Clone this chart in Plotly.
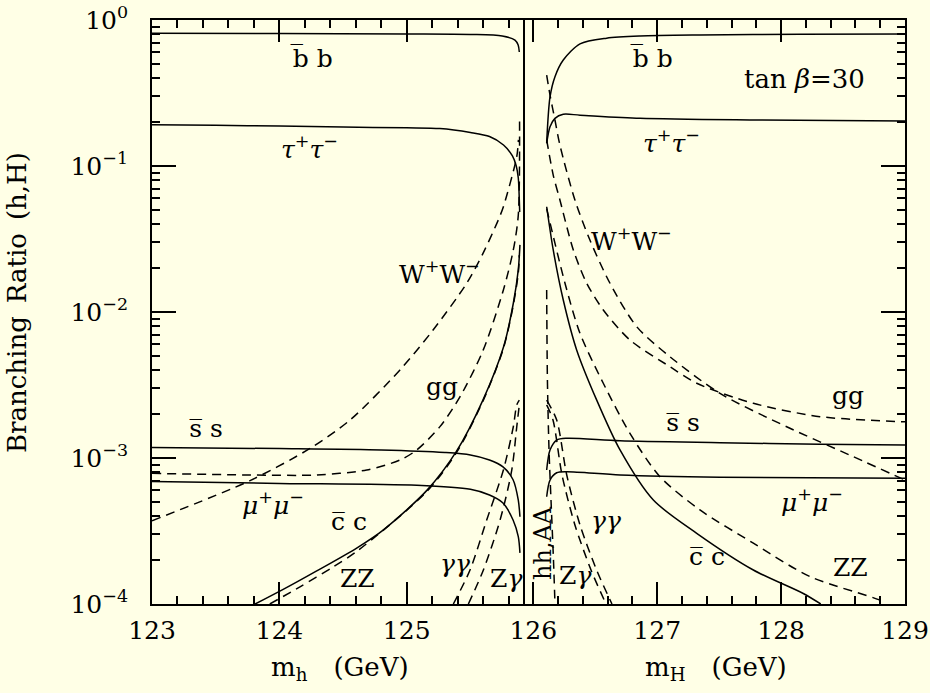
import plotly.graph_objects as go

# ---------------- data: branching ratios of h (left) and H (right) ----------------
# light scalar h, m_h in GeV
mh_bb_x = [123.0, 124.0, 125.0, 125.5, 125.75, 125.85, 125.875, 125.884]
mh_bb = [0.811, 0.808, 0.802, 0.796, 0.777, 0.729, 0.674, 0.604]

mh_tau_x = [123.0, 123.5, 124.0, 124.5, 125.0, 125.26, 125.5, 125.65, 125.76, 125.83, 125.86, 125.876, 125.884, 125.887]
mh_tau = [0.1918, 0.190, 0.1879, 0.1849, 0.1826, 0.1806, 0.1696, 0.1592, 0.1393, 0.1171, 0.100, 0.0827, 0.0585, 0.0484]

mh_ss_x = [123.0, 124.0, 124.8, 125.3, 125.5, 125.65, 125.756, 125.835, 125.876, 125.889]
mh_ss = [1.18e-3, 1.16e-3, 1.135e-3, 1.09e-3, 1.05e-3, 9.7e-4, 8.7e-4, 7.1e-4, 5.15e-4, 3.96e-4]

mh_mumu_x = [123.0, 124.0, 125.08, 125.5, 125.65, 125.756, 125.835, 125.876, 125.889]
mh_mumu = [6.89e-4, 6.7e-4, 6.5e-4, 6.1e-4, 5.58e-4, 4.92e-4, 3.76e-4, 2.89e-4, 2.24e-4]

mh_cc_x = [123.81, 124.03, 124.29, 124.61, 124.82, 125.16, 125.39, 125.60, 125.76, 125.837, 125.876, 125.889]
mh_cc = [1.0e-4, 1.259e-4, 1.679e-4, 2.427e-4, 3.236e-4, 6.026e-4, 1.109e-3, 2.512e-3, 5.754e-3, 1.148e-2, 1.95e-2, 2.884e-2]

mh_zz_x = [123.925, 124.162, 124.424, 124.607, 125.157, 125.393, 125.601, 125.759, 125.837, 125.876, 125.884]
mh_zz = [1.0e-4, 1.312e-4, 1.799e-4, 2.291e-4, 5.888e-4, 1.096e-3, 2.483e-3, 5.623e-3, 1.117e-2, 1.849e-2, 2.455e-2]

mh_ww_x = [123.0, 123.77, 124.241, 124.555, 124.947, 125.207, 125.471, 125.599, 125.719, 125.759, 125.864, 125.877]
mh_ww = [3.72e-4, 7.0e-4, 1.164e-3, 1.82e-3, 4.01e-3, 7.53e-3, 1.574e-2, 2.52e-2, 4.27e-2, 5.26e-2, 0.116, 0.151]

mh_gg_x = [123.0, 123.77, 124.293, 124.686, 124.947, 125.079, 125.261, 125.419, 125.601, 125.759, 125.837, 125.876, 125.886]
mh_gg = [7.85e-4, 7.65e-4, 7.65e-4, 8.28e-4, 9.69e-4, 1.135e-3, 1.64e-3, 2.63e-3, 5.50e-3, 1.415e-2, 2.66e-2, 4.61e-2, 0.2066]

mh_aa_x = [125.366, 125.497, 125.628, 125.759, 125.837, 125.864, 125.884]
mh_aa = [1.0e-4, 1.71e-4, 3.76e-4, 8.28e-4, 1.637e-3, 2.31e-3, 2.49e-3]

mh_za_x = [125.484, 125.602, 125.733, 125.825, 125.864, 125.884]
mh_za = [1.0e-4, 1.71e-4, 3.76e-4, 8.28e-4, 1.637e-3, 2.31e-3]

# heavy scalar H, m_H in GeV
mH_bb_x = [126.108, 126.135, 126.175, 126.242, 126.377, 126.592, 126.861, 127.345, 128.152, 129.0]
mH_bb = [0.144, 0.297, 0.409, 0.532, 0.686, 0.750, 0.776, 0.789, 0.798, 0.802]

mH_tau_x = [126.108, 126.135, 126.175, 126.242, 126.377, 126.861, 127.749, 129.0]
mH_tau = [0.143, 0.186, 0.212, 0.226, 0.223, 0.212, 0.2065, 0.203]

mH_ss_x = [126.108, 126.135, 126.189, 126.27, 126.70, 127.507, 128.314, 129.0]
mH_ss = [8.28e-4, 1.135e-3, 1.327e-3, 1.365e-3, 1.312e-3, 1.274e-3, 1.242e-3, 1.227e-3]

mH_mumu_x = [126.108, 126.135, 126.189, 126.27, 126.70, 127.507, 129.0]
mH_mumu = [5.43e-4, 7.06e-4, 7.92e-4, 8.05e-4, 7.66e-4, 7.38e-4, 7.26e-4]

mH_cc_x = [126.108, 126.161, 126.242, 126.350, 126.512, 126.70, 126.969, 127.319, 127.776, 128.179, 128.32]
mH_cc = [5.26e-2, 2.66e-2, 1.208e-2, 5.50e-3, 2.49e-3, 1.135e-3, 5.15e-4, 3.05e-4, 1.71e-4, 1.18e-4, 1.0e-4]

mH_zz_x = [126.108, 126.256, 126.377, 126.565, 126.78, 127.022, 127.345, 127.776, 128.233, 128.798, 128.84]
mH_zz = [5.1e-2, 1.574e-2, 7.14e-3, 3.25e-3, 1.476e-3, 7.45e-4, 4.41e-4, 2.61e-4, 1.54e-4, 1.06e-4, 1.0e-4]

mH_ww_x = [126.108, 126.135, 126.175, 126.215, 126.336, 126.457, 126.619, 126.835, 127.103, 127.507, 128.045, 128.583, 129.0]
mH_ww = [0.42, 0.306, 0.2065, 0.139, 0.0585, 0.0311, 0.01574, 7.93e-3, 4.94e-3, 2.77e-3, 1.637e-3, 1.021e-3, 7.06e-4]

mH_gg_x = [126.108, 126.161, 126.215, 126.323, 126.431, 126.565, 126.78, 127.103, 127.319, 127.776, 128.314, 129.0]
mH_gg = [0.151, 0.0867, 0.0585, 0.0266, 0.01574, 0.01033, 6.43e-3, 4.22e-3, 3.25e-3, 2.37e-3, 1.92e-3, 1.77e-3]

mH_aa_x = [126.108, 126.189, 126.27, 126.377, 126.511, 126.635]
mH_aa = [2.49e-3, 1.82e-3, 7.65e-4, 3.48e-4, 1.71e-4, 1.0e-4]

mH_za_x = [126.108, 126.159, 126.232, 126.336, 126.466, 126.587]
mH_za = [2.31e-3, 1.82e-3, 7.65e-4, 3.48e-4, 1.71e-4, 1.0e-4]

mH_hhAA_x = [126.108, 126.114, 126.127, 126.143, 126.163, 126.175]
mH_hhAA = [1.415e-2, 3.42e-3, 1.135e-3, 5.15e-4, 2.0e-4, 1.0e-4]

# axis ticks
y_tickvals = [1e-4, 1e-3, 1e-2, 1e-1, 1.0]
y_ticktext = ["10<sup>\u22124</sup>", "10<sup>\u22123</sup>", "10<sup>\u22122</sup>",
              "10<sup>\u22121</sup>", "10<sup>0</sup>"]
y_minor = [m * 10.0 ** e for e in range(-4, 0) for m in range(2, 10)]
xh_major = [123, 124, 125]
xh_minor = [123.2, 123.4, 123.6, 123.8, 124.2, 124.4, 124.6, 124.8, 125.2, 125.4, 125.6, 125.8]
xH_major = [126, 127, 128, 129]
xH_minor = [126.2, 126.4, 126.6, 126.8, 127.2, 127.4, 127.6, 127.8, 128.2, 128.4, 128.6, 128.8]

# ---------------- styling ----------------
BG = "#FFFFE6"
FONT = "DejaVu Serif"
LW = 1.5
DASH = "9px,6px"

fig = go.Figure()

left_series = [
    (mh_bb_x, mh_bb, "solid"), (mh_tau_x, mh_tau, "solid"),
    (mh_ss_x, mh_ss, "solid"), (mh_mumu_x, mh_mumu, "solid"),
    (mh_cc_x, mh_cc, "solid"), (mh_zz_x, mh_zz, DASH),
    (mh_ww_x, mh_ww, DASH), (mh_gg_x, mh_gg, DASH),
    (mh_aa_x, mh_aa, DASH), (mh_za_x, mh_za, DASH),
]
right_series = [
    (mH_bb_x, mH_bb, "solid"), (mH_tau_x, mH_tau, "solid"),
    (mH_ss_x, mH_ss, "solid"), (mH_mumu_x, mH_mumu, "solid"),
    (mH_cc_x, mH_cc, "solid"), (mH_zz_x, mH_zz, DASH),
    (mH_ww_x, mH_ww, DASH), (mH_gg_x, mH_gg, DASH),
    (mH_aa_x, mH_aa, DASH), (mH_za_x, mH_za, DASH),
    (mH_hhAA_x, mH_hhAA, DASH),
]

for xs, ys, dash in left_series:
    fig.add_trace(go.Scatter(x=xs, y=ys, mode="lines", xaxis="x", yaxis="y",
                             line=dict(color="black", width=LW, dash=dash,
                                       shape="spline", smoothing=0.8),
                             showlegend=False, hoverinfo="skip"))
for xs, ys, dash in right_series:
    fig.add_trace(go.Scatter(x=xs, y=ys, mode="lines", xaxis="x2", yaxis="y2",
                             line=dict(color="black", width=LW, dash=dash,
                                       shape="spline", smoothing=0.8),
                             showlegend=False, hoverinfo="skip"))

# plot area geometry in pixels
W, H = 930, 693
L, R, T, B = 152, 25, 20, 89
PW, PH = W - L - R, H - T - B
SPLIT = 523  # pixel column where the two panels meet
split_frac = (SPLIT - L) / PW


def px(x):
    return (x - L) / PW


def py(y):
    return (H - B - y) / PH


axis_common = dict(showgrid=False, zeroline=False, showline=True, linecolor="black",
                   linewidth=1.8, ticks="inside", tickcolor="black", tickwidth=1.5,
                   automargin=False,
                   tickfont=dict(family=FONT, size=25, color="black"))

minor_x = dict(tickmode="array", ticks="inside", ticklen=8, tickwidth=1.5,
               tickcolor="black", showgrid=False)

fig.update_layout(
    width=W, height=H, autosize=False,
    margin=dict(l=L, r=R, t=T, b=B, pad=0, autoexpand=False),
    paper_bgcolor=BG, plot_bgcolor=BG,
    xaxis=dict(domain=[0, split_frac], range=[123, 125.913], anchor="y",
               tickmode="array", tickvals=xh_major, ticklen=22, mirror="ticks",
               ticklabelstandoff=3,
               minor=dict(tickvals=xh_minor, **minor_x),
               **axis_common),
    xaxis2=dict(domain=[split_frac, 1], range=[125.917, 129], anchor="y2",
                tickmode="array", tickvals=xH_major, ticklen=22, mirror="ticks",
                ticklabelstandoff=3,
                minor=dict(tickvals=xH_minor, **minor_x),
                **axis_common),
    yaxis=dict(type="log", range=[-4, 0], domain=[0, 1], anchor="x",
               tickmode="array", tickvals=y_tickvals, ticktext=y_ticktext,
               ticklen=24, mirror=True, ticklabelstandoff=17,
               minor=dict(tickvals=y_minor, **minor_x),
               **axis_common),
    yaxis2=dict(type="log", range=[-4, 0], domain=[0, 1], anchor="x2", side="right",
                tickmode="array", tickvals=y_tickvals, showticklabels=False,
                ticklen=24, mirror=False,
                minor=dict(tickvals=y_minor, **minor_x),
                **axis_common),
)

OV = "\u0305"  # combining overline for antiparticles
labels = [
    # left panel
    ("b" + OV + " b", 311, 58, 25),
    ("<i>\u03c4</i><sup>+</sup><i>\u03c4</i><sup>\u2212</sup>", 309, 147, 25),
    ("W<sup>+</sup>W<sup>\u2212</sup>", 439, 272, 25),
    ("gg", 442, 386, 25),
    ("s" + OV + " s", 206, 428, 25),
    ("<i>\u03bc</i><sup>+</sup><i>\u03bc</i><sup>\u2212</sup>", 273, 503, 25),
    ("c" + OV + " c", 349, 521, 25),
    ("ZZ", 357, 578, 25),
    ("<i>\u03b3\u03b3</i>", 455, 563, 25),
    ("Z<i>\u03b3</i>", 506, 578, 25),
    # right panel
    ("b" + OV + " b", 651, 58, 25),
    ("tan <i>\u03b2</i>=30", 804, 79, 26),
    ("<i>\u03c4</i><sup>+</sup><i>\u03c4</i><sup>\u2212</sup>", 671, 141, 25),
    ("W<sup>+</sup>W<sup>\u2212</sup>", 631, 240, 25),
    ("gg", 848, 395, 25),
    ("s" + OV + " s", 683, 423, 25),
    ("<i>\u03bc</i><sup>+</sup><i>\u03bc</i><sup>\u2212</sup>", 812, 500, 25),
    ("c" + OV + " c", 707, 556, 25),
    ("ZZ", 850, 567, 25),
    ("<i>\u03b3\u03b3</i>", 606, 520, 25),
    ("Z<i>\u03b3</i>", 575, 575, 25),
]
for text, xp, yp, size in labels:
    fig.add_annotation(text=text, x=px(xp), y=py(yp), xref="paper", yref="paper",
                       showarrow=False, xanchor="center", yanchor="middle",
                       font=dict(family=FONT, size=size, color="black"))

fig.add_annotation(text="hh,AA", x=px(543), y=py(543), xref="paper", yref="paper",
                   showarrow=False, textangle=-90, xanchor="center", yanchor="middle",
                   font=dict(family=FONT, size=24, color="black"))

# axis titles
fig.add_annotation(text="m<sub>h</sub>\u2002\u2002(GeV)", x=px(340), y=py(668),
                   xref="paper", yref="paper", showarrow=False,
                   xanchor="center", yanchor="middle",
                   font=dict(family=FONT, size=26, color="black"))
fig.add_annotation(text="m<sub>H</sub>\u2002\u2002(GeV)", x=px(716), y=py(668),
                   xref="paper", yref="paper", showarrow=False,
                   xanchor="center", yanchor="middle",
                   font=dict(family=FONT, size=26, color="black"))
fig.add_annotation(text="Branching\u2002Ratio\u2002(h,H)", x=px(17), y=py(303),
                   xref="paper", yref="paper", showarrow=False, textangle=-90,
                   xanchor="center", yanchor="middle",
                   font=dict(family=FONT, size=26, color="black"))

fig.write_html("out.html")
